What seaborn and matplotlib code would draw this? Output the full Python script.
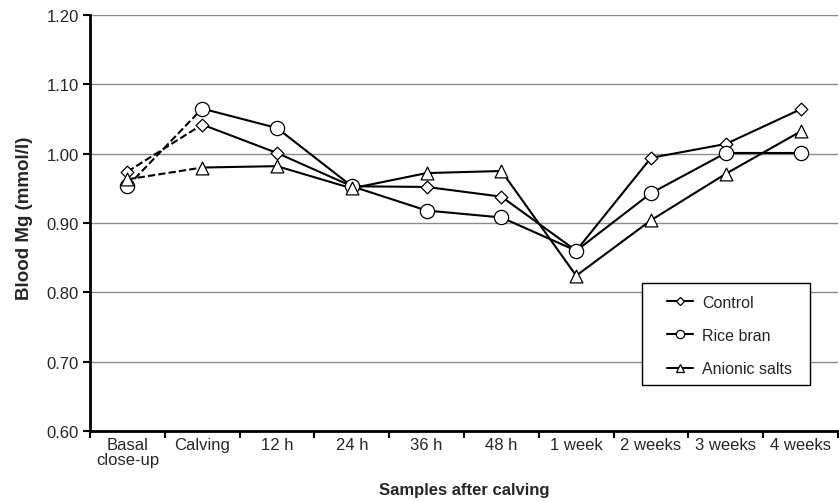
import pandas as pd
import seaborn as sns
from matplotlib import pyplot as plt
from matplotlib.lines import Line2D
from matplotlib.patches import Rectangle

# samples and blood Mg values
samples = ["Basal\nclose-up", "Calving", "12 h", "24 h", "36 h", "48 h",
           "1 week", "2 weeks", "3 weeks", "4 weeks"]
control = [0.974, 1.042, 1.001, 0.953, 0.952, 0.938, 0.860, 0.994, 1.014, 1.064]
rice_bran = [0.953, 1.065, 1.037, 0.953, 0.918, 0.908, 0.860, 0.943, 1.001, 1.001]
anionic = [0.963, 0.980, 0.982, 0.950, 0.972, 0.975, 0.824, 0.904, 0.971, 1.032]

groups = ["Control", "Rice bran", "Anionic salts"]
markers = {"Control": "D", "Rice bran": "o", "Anionic salts": "^"}
msize = {"Control": 42, "Rice bran": 105, "Anionic salts": 85}

rows = []
for g, vals in zip(groups, [control, rice_bran, anionic]):
    for s, v in zip(samples, vals):
        rows.append({"sample": s, "group": g, "mg": v})
df = pd.DataFrame(rows)

sns.set_style("white")
plt.rcParams["font.family"] = ["Liberation Sans", "DejaVu Sans"]

fig = plt.figure(figsize=(8.39, 5.02), dpi=100)
ax = fig.add_axes([90 / 839, (502 - 432) / 502, 748 / 839, 416 / 502])

for g in groups:
    sub = df[df["group"] == g]
    # basal -> calving dashed, rest solid
    sns.lineplot(data=sub.iloc[:2], x="sample", y="mg", color="black",
                 linestyle=(0, (3.5, 1.5)), linewidth=1.5, sort=False, ax=ax)
    sns.lineplot(data=sub.iloc[1:], x="sample", y="mg", color="black",
                 linewidth=1.5, sort=False, ax=ax)

for g in groups:
    sub = df[df["group"] == g]
    sns.scatterplot(data=sub, x="sample", y="mg", marker=markers[g], s=msize[g],
                    color="white", edgecolor="black", linewidth=0.9,
                    zorder=5, ax=ax)

ax.set_ylim(0.60, 1.20)
ax.set_xlim(-0.5, len(samples) - 0.5)
ax.set_yticks([0.60, 0.70, 0.80, 0.90, 1.00, 1.10, 1.20])
ax.set_yticklabels([f"{t:.2f}" for t in ax.get_yticks()], fontsize=12)
ax.yaxis.grid(True, color="#8a8a8a", linewidth=1)
ax.set_axisbelow(True)

ax.set_xticks(range(len(samples)))
ax.set_xticklabels(samples, fontsize=12, linespacing=1.0)
ax.set_xticks([i - 0.5 for i in range(len(samples) + 1)], minor=True)
ax.tick_params(axis="x", which="major", length=0, pad=4)
ax.tick_params(axis="x", which="minor", length=5, width=1.5, color="black",
               direction="out", bottom=True)
ax.tick_params(axis="y", length=5, width=1.5, color="black",
               direction="out", left=True, pad=3)

for side in ["top", "right"]:
    ax.spines[side].set_visible(False)
for side in ["left", "bottom"]:
    ax.spines[side].set_color("black")
    ax.spines[side].set_linewidth(2)

ax.set_xlabel("Samples after calving", fontsize=12, fontweight="bold", labelpad=11)
ax.set_ylabel("Blood Mg (mmol/l)", fontsize=13.5, fontweight="bold")
ax.yaxis.set_label_coords(-0.0756, 0.513)

# legend box
ax.add_patch(Rectangle((0.738, 0.1106), 0.2246, 0.2452, transform=ax.transAxes,
                       facecolor="white", edgecolor="black", linewidth=1,
                       zorder=6))
handles = [Line2D([0], [0], color="black", linewidth=1.5, marker=markers[g],
                  markersize={"Control": 4.5, "Rice bran": 6, "Anionic salts": 6}[g],
                  markerfacecolor="white", markeredgecolor="black",
                  markeredgewidth=0.9) for g in groups]
leg = ax.legend(handles, groups, loc="upper left", bbox_to_anchor=(0.7714, 0.3276),
                frameon=False, fontsize=11.5, handlelength=1.6,
                labelspacing=1.15, borderpad=0, borderaxespad=0,
                handletextpad=0.6)
leg.set_zorder(7)

fig.savefig("out.png", dpi=100)
